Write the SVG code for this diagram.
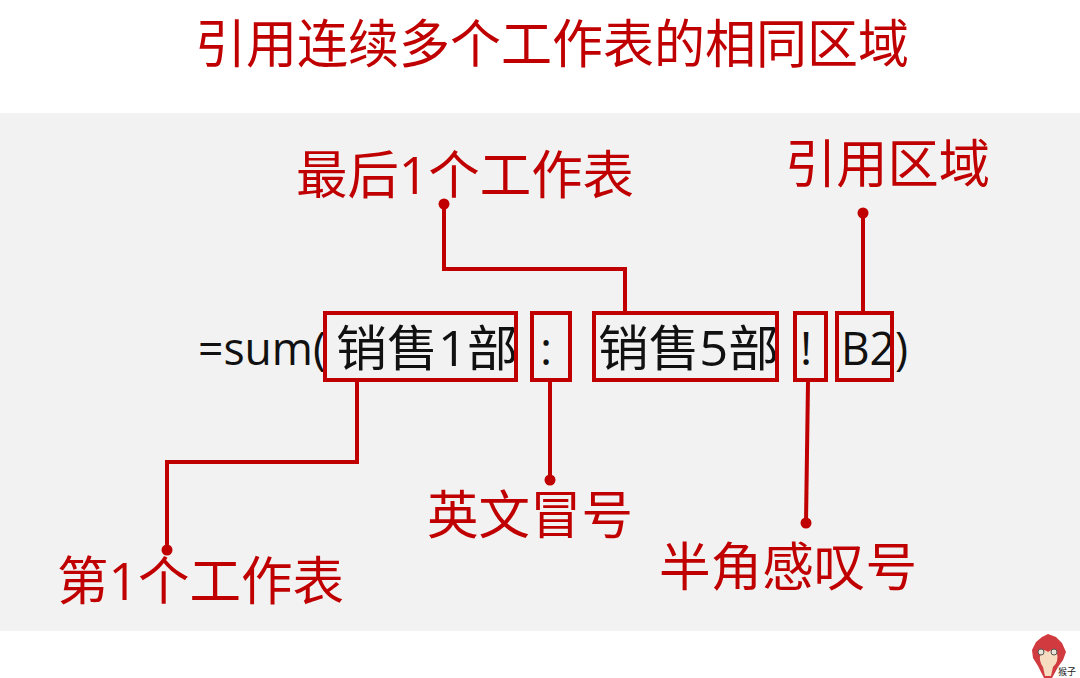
<svg xmlns="http://www.w3.org/2000/svg" width="1080" height="678" viewBox="0 0 1080 678">
<style>
.r{font-family:"Open Sans","Noto Sans CJK SC",sans-serif;fill:#c00000;font-size:52px}
.k{font-family:"Open Sans","Noto Sans CJK SC",sans-serif;fill:#111;font-size:46px}
.z{font-size:49px}
.b{fill:none;stroke:#c00000;stroke-width:4}
.c{fill:none;stroke:#c00000;stroke-width:4}
.d{fill:#c00000}
</style>
<rect width="1080" height="678" fill="#fff"/>
<rect id="panel" x="0" y="113" width="1080" height="518" fill="#f2f2f2"/>
<text id="title" class="r" x="195" y="63" textLength="714" lengthAdjust="spacingAndGlyphs">引用连续多个工作表的相同区域</text>
<g id="connectors">
<path class="c" d="M444 204V269H625V311"/><circle class="d" cx="444" cy="204" r="5.5"/>
<path class="c" d="M863 213V311"/><circle class="d" cx="863" cy="213" r="5.5"/>
<path class="c" d="M357 382V462H167V550"/><circle class="d" cx="167" cy="550" r="5.5"/>
<path class="c" d="M550 382V480"/><circle class="d" cx="550" cy="480" r="5.5"/>
<path class="c" d="M808 382L806 523"/><circle class="d" cx="806" cy="523" r="5.5"/>
</g>
<g id="formula">
<text class="k" x="198" y="365" textLength="128" lengthAdjust="spacingAndGlyphs">=sum(</text>
<text class="k z" x="336" y="366" textLength="182" lengthAdjust="spacingAndGlyphs">销售1部</text>
<text class="k" x="540" y="365">:</text>
<text class="k z" x="598" y="366" textLength="181" lengthAdjust="spacingAndGlyphs">销售5部</text>
<text class="k" x="800" y="365">!</text>
<text class="k" x="841" y="365" textLength="67" lengthAdjust="spacingAndGlyphs">B2)</text>
</g>
<g id="node-sheet1"><rect class="b" x="325" y="313" width="191" height="67"/></g>
<g id="node-colon"><rect class="b" x="532" y="313" width="38" height="67"/></g>
<g id="node-sheet5"><rect class="b" x="594" y="313" width="183" height="67"/></g>
<g id="node-bang"><rect class="b" x="795" y="313" width="31" height="67"/></g>
<g id="node-b2"><rect class="b" x="837" y="313" width="55" height="67"/></g>
<g id="label-last"><text class="r" x="296" y="194" textLength="338" lengthAdjust="spacingAndGlyphs">最后1个工作表</text></g>
<g id="label-range"><text class="r" x="785" y="183" textLength="205" lengthAdjust="spacingAndGlyphs">引用区域</text></g>
<g id="label-first"><text class="r" x="57" y="600" textLength="287" lengthAdjust="spacingAndGlyphs">第1个工作表</text></g>
<g id="label-colon"><text class="r" x="427" y="534" textLength="206" lengthAdjust="spacingAndGlyphs">英文冒号</text></g>
<g id="label-bang"><text class="r" x="659" y="586" textLength="258" lengthAdjust="spacingAndGlyphs">半角感叹号</text></g>
<g id="logo">
<path d="M1048 634L1056 637L1062 643L1066 652L1063 660L1058 667L1052 678H1044L1038 666L1033 658L1032 650L1036 642L1042 637Z" fill="#d13a3f"/>
<path d="M1041 653Q1044 648 1048 652Q1052 648 1057 653Q1059 662 1053 667L1051 676H1045L1043 667Q1038 660 1041 653Z" fill="#f6dcc0"/>
<circle cx="1041" cy="652" r="3" fill="#e8e4d8" stroke="#555"/><circle cx="1054" cy="652" r="3" fill="#e8e4d8" stroke="#555"/>
<text x="1058" y="675" font-size="9" font-family="'Noto Sans CJK SC',sans-serif" fill="#222">猴子</text>
</g>
</svg>
